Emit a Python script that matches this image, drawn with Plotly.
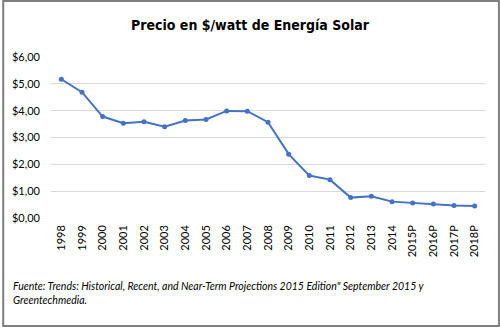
import plotly.graph_objects as go

years = ["1998", "1999", "2000", "2001", "2002", "2003", "2004", "2005", "2006", "2007",
         "2008", "2009", "2010", "2011", "2012", "2013", "2014", "2015P", "2016P", "2017P", "2018P"]
prices = [5.17, 4.69, 3.78, 3.53, 3.59, 3.40, 3.63, 3.67, 3.99, 3.98,
          3.57, 2.38, 1.58, 1.43, 0.76, 0.81, 0.61, 0.56, 0.52, 0.47, 0.45]
y_ticks = [0, 1, 2, 3, 4, 5, 6]
y_labels = ["$0,00", "$1,00", "$2,00", "$3,00", "$4,00", "$5,00", "$6,00"]
title = "Precio en $/watt de Energía Solar"
source = ("Fuente: Trends: Historical, Recent, and Near-Term Projections 2015 Edition\" September 2015 y<br>"
          "Greentechmedia.")

W, H = 500, 327
ml, mr, mt, mb = 49, 15, 57, 109
pw, ph = W - ml - mr, H - mt - mb

fig = go.Figure()
fig.add_trace(go.Scatter(
    x=years, y=prices, mode="lines+markers",
    line=dict(color="#4472C4", width=2),
    marker=dict(color="#4472C4", size=5, symbol="circle"),
    showlegend=False, hoverinfo="skip",
))

fig.update_layout(
    width=W, height=H,
    margin=dict(l=ml, r=mr, t=mt, b=mb),
    paper_bgcolor="white", plot_bgcolor="white",
    title=dict(text="<b>" + title + "</b>", x=0.5, xanchor="center", y=1 - 25 / H, yanchor="middle",
               font=dict(family="DejaVu Sans Condensed, Liberation Sans Narrow", size=14, color="#000")),
    xaxis=dict(type="category", range=[-0.5, 20.5], showgrid=False, showline=False, zeroline=False,
               tickangle=-90, ticks="", ticklen=0, ticklabelstandoff=4,
               tickfont=dict(family="Lato, Open Sans", size=11, color="#000")),
    yaxis=dict(range=[0, 6], tickvals=y_ticks, ticktext=y_labels, showgrid=True, gridcolor="#d9d9d9",
               gridwidth=1, zeroline=False, showline=False, ticks="", ticklabelstandoff=10,
               tickfont=dict(family="Lato, Open Sans", size=11, color="#000")),
    annotations=[dict(
        text="<i>" + source + "</i>", xref="paper", yref="paper",
        x=(9 - ml) / pw, y=-(278 - mt - ph) / ph, xanchor="left", yanchor="top", align="left",
        showarrow=False, font=dict(family="Lato, Open Sans", size=10.5, color="#000"),
    )],
    shapes=[dict(type="rect", xref="paper", yref="paper",
                 x0=(1 - ml) / pw, x1=(W - 1 - ml) / pw,
                 y0=-(H - 1 - mt - ph) / ph, y1=1 + (mt - 1) / ph,
                 line=dict(color="#7f7f7f", width=2), fillcolor="rgba(0,0,0,0)", layer="above")],
)

fig.write_html("out.html")
